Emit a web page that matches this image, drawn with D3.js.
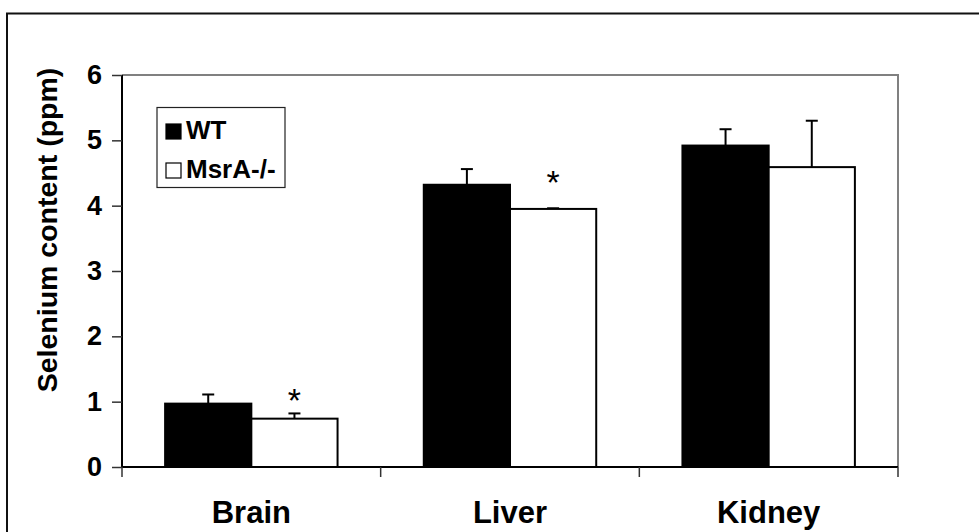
<!DOCTYPE html>
<html>
<head>
<meta charset="utf-8">
<script src="https://cdn.jsdelivr.net/npm/d3@7"></script>
<style>
  html, body { margin: 0; padding: 0; background: #fff; }
  svg { display: block; }
  text { font-family: "Liberation Sans", Arial, sans-serif; }
</style>
</head>
<body>
<svg id="chart" width="979" height="532"></svg>
<script>
// ---- data ----
const categories = ["Brain", "Liver", "Kidney"];
const seriesNames = ["WT", "MsrA-/-"];
const wtValues = [0.97, 4.32, 4.92];
const wtErrors = [0.14, 0.24, 0.25];
const koValues = [0.74, 3.95, 4.59];
const koErrors = [0.08, 0.01, 0.71];
const yTicks = [0, 1, 2, 3, 4, 5, 6];
const asteriskCategories = ["Brain", "Liver"];
const asteriskValues = [1.14, 4.47];

(function () {
// ---- layout ----
const svg = d3.select("#chart");
const pLeft = 122, pRight = 898, pTop = 75, pBottom = 467;

const x0 = d3.scaleBand().domain(categories).range([pLeft, pRight]).paddingInner(0).paddingOuter(0);
const bw = x0.bandwidth();
const x1 = d3.scaleBand().domain(seriesNames).range([bw / 6, bw * 5 / 6]).padding(0);
const y = d3.scaleLinear().domain([0, 6]).range([pBottom, pTop]);

const fills = { "WT": "#000", "MsrA-/-": "#fff" };

// outer frame
svg.append("rect").attr("x", 7).attr("y", 13.5).attr("width", 1000).attr("height", 1000)
  .attr("fill", "none").attr("stroke", "#111").attr("stroke-width", 2);

// plot area frame (top / right, gray)
svg.append("path")
  .attr("d", `M${pLeft},${pTop}H${pRight}V${pBottom}`)
  .attr("fill", "none").attr("stroke", "#808080").attr("stroke-width", 2);

const rows = [];
categories.forEach((c, i) => {
  rows.push({ cat: c, s: "WT", v: wtValues[i], e: wtErrors[i] });
  rows.push({ cat: c, s: "MsrA-/-", v: koValues[i], e: koErrors[i] });
});

// error bars (upward)
const eg = svg.append("g").attr("stroke", "#000").attr("stroke-width", 2);
rows.forEach(d => {
  const cx = x0(d.cat) + x1(d.s) + x1.bandwidth() / 2;
  eg.append("line").attr("x1", cx).attr("x2", cx).attr("y1", y(d.v)).attr("y2", y(d.v + d.e));
  eg.append("line").attr("x1", cx - 6).attr("x2", cx + 6).attr("y1", y(d.v + d.e)).attr("y2", y(d.v + d.e));
});

// bars
svg.append("g").selectAll("rect").data(rows).join("rect")
  .attr("x", d => x0(d.cat) + x1(d.s))
  .attr("y", d => y(d.v))
  .attr("width", x1.bandwidth())
  .attr("height", d => y(0) - y(d.v))
  .attr("fill", d => fills[d.s])
  .attr("stroke", "#000").attr("stroke-width", 2);

// y axis
const yAxis = d3.axisLeft(y).tickValues(yTicks).tickSize(10).tickPadding(10).tickFormat(d3.format("d"));
const yg = svg.append("g").attr("transform", `translate(${pLeft},0)`).call(yAxis);
yg.select(".domain").attr("stroke", "#000").attr("stroke-width", 2).attr("d", `M0,${pTop}V${pBottom}`);
yg.selectAll(".tick line").attr("stroke", "#333").attr("stroke-width", 1.5);
yg.selectAll(".tick text").attr("font-size", 27).attr("font-weight", "bold").attr("fill", "#000")
  .attr("font-family", "Liberation Sans, Arial, sans-serif");

// x axis
const xAxis = d3.axisBottom(x0).tickSize(0).tickPadding(0).tickFormat("");
const xg = svg.append("g").attr("transform", `translate(0,${pBottom})`).call(xAxis);
xg.select(".domain").attr("stroke", "#000").attr("stroke-width", 2).attr("d", `M${pLeft},0H${pRight}`);
xg.selectAll(".tick").remove();
const bounds = categories.map(c => x0(c)).concat([pRight]);
xg.selectAll("line.bound").data(bounds).join("line").attr("class", "bound")
  .attr("x1", d => d).attr("x2", d => d).attr("y1", 0).attr("y2", 10)
  .attr("stroke", "#333").attr("stroke-width", 1.5);
svg.append("g").selectAll("text").data(categories).join("text")
  .attr("x", d => x0(d) + bw / 2).attr("y", 523)
  .attr("text-anchor", "middle").attr("font-size", 31).attr("font-weight", "bold")
  .text(d => d);

// y title
svg.append("text")
  .attr("transform", `translate(57,${230}) rotate(-90)`)
  .attr("text-anchor", "middle").attr("font-size", 28.5).attr("font-weight", "bold")
  .text("Selenium content (ppm)");

// asterisks
svg.append("g").selectAll("text").data(asteriskCategories).join("text")
  .attr("x", (d) => x0(d) + x1("MsrA-/-") + x1.bandwidth() / 2)
  .attr("y", (d, i) => y(asteriskValues[i]) + 19)
  .attr("text-anchor", "middle").attr("font-size", 34)
  .attr("font-family", "Liberation Serif, Times New Roman, serif")
  .text("*");

// legend
const lg = svg.append("g");
lg.append("rect").attr("x", 157).attr("y", 107.5).attr("width", 128).attr("height", 80)
  .attr("fill", "#fff").attr("stroke", "#222").attr("stroke-width", 1.2);
seriesNames.forEach((s, i) => {
  const ly = 124 + i * 39;
  lg.append("rect").attr("x", 166).attr("y", ly).attr("width", 15).attr("height", 15)
    .attr("fill", fills[s]).attr("stroke", "#000").attr("stroke-width", 1.2);
  lg.append("text").attr("x", 186).attr("y", ly + 15).attr("font-size", 26).attr("font-weight", "bold")
    .text(s);
});
})();
</script>
</body>
</html>
